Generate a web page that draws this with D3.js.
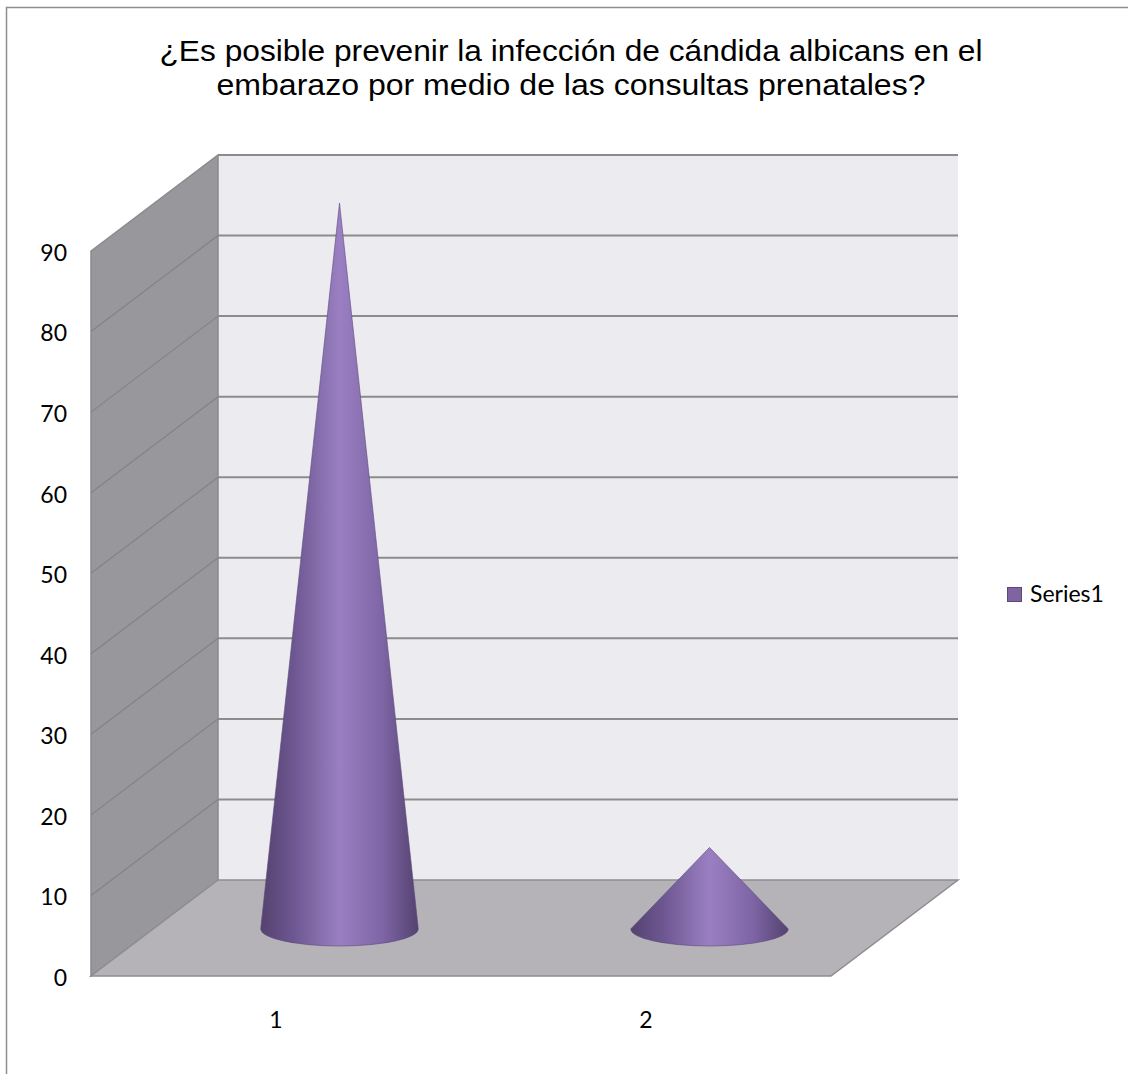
<!DOCTYPE html>
<html>
<head>
<meta charset="utf-8">
<script src="https://cdn.jsdelivr.net/npm/d3@7"></script>
<style>
  body { margin: 0; background: #fff; }
  svg { display: block; }
</style>
</head>
<body>
<svg id="chart" width="1128" height="1074"></svg>
<script>
const titleLines = [
  "¿Es posible prevenir la infección de cándida albicans en el",
  "embarazo por medio de las consultas prenatales?"
];
const categories = ["1", "2"];
const values = [90, 10];
const seriesName = "Series1";
const yTicks = [0, 10, 20, 30, 40, 50, 60, 70, 80, 90];

const svg = d3.select("#chart");
const width = +svg.attr("width");
const height = +svg.attr("height");

// 3D box: front plane + depth offset
const depthX = 127;
const depthY = -96;
const yScale = d3.scaleLinear().domain([0, 90]).range([976, 251]);
const xScale = d3.scaleBand().domain(categories).range([91, 831]);

const defs = svg.append("defs");
const grad = defs.append("linearGradient")
  .attr("id", "coneFill")
  .attr("x1", "0%").attr("x2", "100%").attr("y1", "0%").attr("y2", "0%");
grad.append("stop").attr("offset", "0%").attr("stop-color", "#54426f");
grad.append("stop").attr("offset", "22%").attr("stop-color", "#6f5893");
grad.append("stop").attr("offset", "50%").attr("stop-color", "#9a80c2");
grad.append("stop").attr("offset", "78%").attr("stop-color", "#7d64a4");
grad.append("stop").attr("offset", "100%").attr("stop-color", "#54426f");

// outer chart border
svg.append("rect")
  .attr("x", 6.5).attr("y", 7.5)
  .attr("width", width + 10).attr("height", height + 10)
  .attr("fill", "none")
  .attr("stroke", "#8e8e8e")
  .attr("stroke-width", 1.5);

// title (text in the original is a bit stretched sideways)
const titleWidths = [823, 709];
svg.append("text")
  .attr("x", 571)
  .attr("y", 61)
  .attr("text-anchor", "middle")
  .style("font-family", "'Liberation Sans', Arial, sans-serif")
  .style("font-size", "29px")
  .attr("fill", "#000")
  .selectAll("tspan")
  .data(titleLines)
  .enter()
  .append("tspan")
  .attr("x", 571)
  .attr("dy", (d, i) => i === 0 ? 0 : 34)
  .attr("textLength", (d, i) => titleWidths[i])
  .attr("lengthAdjust", "spacingAndGlyphs")
  .text(d => d);

const x0 = xScale.range()[0];
const x1 = xScale.range()[1];
const yTop = yScale(90);
const yBase = yScale(0);

const pt = (x, y) => x + "," + y;

// back wall
svg.append("polygon")
  .attr("points", [
    pt(x0 + depthX, yTop + depthY), pt(x1 + depthX, yTop + depthY),
    pt(x1 + depthX, yBase + depthY), pt(x0 + depthX, yBase + depthY)
  ].join(" "))
  .attr("fill", "#ecebf0");

// left wall
svg.append("polygon")
  .attr("points", [
    pt(x0, yBase), pt(x0, yTop),
    pt(x0 + depthX, yTop + depthY), pt(x0 + depthX, yBase + depthY)
  ].join(" "))
  .attr("fill", "#98979b")
  .attr("stroke", "#8a898c")
  .attr("stroke-width", 1.5);

// floor
svg.append("polygon")
  .attr("points", [
    pt(x0, yBase), pt(x1, yBase),
    pt(x1 + depthX, yBase + depthY), pt(x0 + depthX, yBase + depthY)
  ].join(" "))
  .attr("fill", "#b5b3b8")
  .attr("stroke", "#8e8d91")
  .attr("stroke-width", 1.5);

// gridlines on back wall
svg.append("g").selectAll("line")
  .data(yTicks.filter(v => v > 0))
  .enter()
  .append("line")
  .attr("x1", x0 + depthX)
  .attr("x2", x1 + depthX)
  .attr("y1", d => yScale(d) + depthY)
  .attr("y2", d => yScale(d) + depthY)
  .attr("stroke", "#8c8c8c")
  .attr("stroke-width", 2);

// gridlines on left wall
svg.append("g").selectAll("line")
  .data(yTicks.filter(v => v > 0 && v < 90))
  .enter()
  .append("line")
  .attr("x1", x0)
  .attr("x2", x0 + depthX)
  .attr("y1", d => yScale(d))
  .attr("y2", d => yScale(d) + depthY)
  .attr("stroke", "#838286")
  .attr("stroke-width", 1.2);

// cones, set at half the depth
const half = 0.5;
const coneData = categories.map((c, i) => ({ cat: c, value: values[i] }));
const rx = xScale.bandwidth() * 0.213;
const ry = 17;

const cones = svg.append("g").selectAll("g")
  .data(coneData)
  .enter()
  .append("g");

cones.append("path")
  .attr("d", d => {
    const cx = xScale(d.cat) + xScale.bandwidth() / 2 + depthX * half;
    const by = yScale(0) + depthY * half + 1;
    const ay = yScale(d.value) + depthY * half;
    return "M" + (cx - rx) + "," + by +
      " L" + cx + "," + ay +
      " L" + (cx + rx) + "," + by +
      " A" + rx + "," + ry + " 0 0 1 " + (cx - rx) + "," + by + " Z";
  })
  .attr("fill", "url(#coneFill)")
  .attr("stroke", "#5d4a7a")
  .attr("stroke-width", 0.6);

// y axis labels
const yAxis = d3.axisLeft(yScale).tickValues(yTicks).tickSize(0).tickPadding(8);
const gy = svg.append("g")
  .attr("transform", "translate(75, 2)")
  .call(yAxis);
gy.select(".domain").remove();
gy.selectAll("text")
  .style("font-family", "Lato, 'Open Sans', sans-serif")
  .style("font-size", "23px")
  .attr("fill", "#000");

// category labels
const xAxis = d3.axisBottom(xScale).tickSize(0).tickPadding(36);
const gx = svg.append("g")
  .attr("transform", `translate(0, ${yBase})`)
  .call(xAxis);
gx.select(".domain").remove();
gx.selectAll("text")
  .style("font-family", "Lato, 'Open Sans', sans-serif")
  .style("font-size", "23px")
  .attr("fill", "#000");

// legend
const legend = svg.append("g").attr("id", "legend");
legend.append("rect")
  .attr("x", 1007.5)
  .attr("y", 587.5)
  .attr("width", 14)
  .attr("height", 14)
  .attr("fill", "#8064a2")
  .attr("stroke", "#5c4777")
  .attr("stroke-width", 1);
legend.append("text")
  .attr("x", 1030)
  .attr("y", 602)
  .style("font-family", "Lato, 'Open Sans', sans-serif")
  .style("font-size", "23px")
  .attr("fill", "#000")
  .text(seriesName);
</script>
</body>
</html>
